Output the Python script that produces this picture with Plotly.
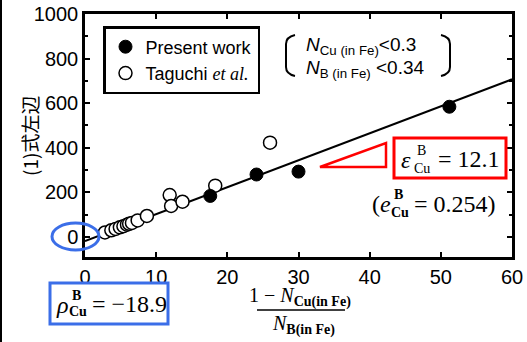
import plotly.graph_objects as go

# ---- data ----
present_x = [17.6, 24.1, 30.0, 51.2]
present_y = [184, 280, 293, 584]
taguchi_x = [2.8, 3.7, 4.3, 4.9, 5.4, 5.9, 6.2, 6.6, 7.4, 8.7, 11.9, 12.1, 13.7, 18.3, 26.0]
taguchi_y = [20, 30, 36, 43, 48, 55, 59, 63, 74, 94, 188, 139, 158, 230, 423]
fit_intercept = -18.9
fit_slope = 12.1
fit_x = [0, 60]
fit_y = [fit_intercept + fit_slope * v for v in fit_x]
x_ticks = [0, 10, 20, 30, 40, 50, 60]
y_ticks = [0, 200, 400, 600, 800, 1000]

W, H = 527, 342
L, R, T, B = 85, 15, 14, 85
PW, PH = W - L - R, H - T - B

def px(x):
    return (x - L) / PW

def py(y):
    return (H - B - y) / PH

SANS = "Liberation Sans, Arial"
SERIF = "Liberation Serif, Times New Roman"
BLUE = "rgb(59,110,232)"
RED = "rgb(255,0,0)"

fig = go.Figure()
fig.add_trace(go.Scatter(x=fit_x, y=fit_y, mode="lines", line=dict(color="black", width=2),
                         showlegend=False, hoverinfo="skip"))
fig.add_trace(go.Scatter(x=taguchi_x, y=taguchi_y, mode="markers", name='Taguchi <span style="font-family:Liberation Serif"><i>et al.</i></span>',
                         marker=dict(size=13, color="white", line=dict(color="black", width=1.5)),
                         legendrank=2))
fig.add_trace(go.Scatter(x=present_x, y=present_y, mode="markers", name="Present work",
                         marker=dict(size=13, color="black", line=dict(color="black", width=1)),
                         legendrank=1))

shapes = []
anns = []

def text(x, y, s, size, family=SERIF, color="black", xanchor="left", yanchor="middle", **kw):
    anns.append(dict(x=px(x), y=py(y), xref="paper", yref="paper", text=s, showarrow=False,
                     font=dict(size=size, family=family, color=color),
                     xanchor=xanchor, yanchor=yanchor, **kw))

# left border line of picture
shapes.append(dict(type="line", xref="paper", yref="paper", x0=px(1), x1=px(1), y0=py(0), y1=py(H),
                   line=dict(color="black", width=2)))

# condition bracket
def paren(xe, xc, y0, y1):
    p = (f"M {px(xe)} {py(y0)} Q {px(xc)} {py(y0 + 2)} {px(xc)} {py(y0 + 9)} "
         f"L {px(xc)} {py(y1 - 9)} Q {px(xc)} {py(y1 - 2)} {px(xe)} {py(y1)}")
    shapes.append(dict(type="path", xref="paper", yref="paper", path=p, line=dict(color="black", width=2)))

paren(295, 286, 35, 76)
paren(441, 450, 35, 76)
text(304, 46, "<i>N</i><sub>Cu (in Fe)</sub>&lt;0.3", 19, family=SANS)
text(304, 69, "<i>N</i><sub>B (in Fe)</sub> &lt;0.34", 19, family=SANS)

# red triangle & epsilon box
shapes.append(dict(type="path", xref="paper", yref="paper",
                   path=f"M {px(320)} {py(167)} L {px(386)} {py(143)} L {px(386)} {py(167)} Z",
                   line=dict(color=RED, width=2.5)))
shapes.append(dict(type="rect", xref="paper", yref="paper", x0=px(394), x1=px(506), y0=py(138), y1=py(178),
                   line=dict(color=RED, width=3), fillcolor="white"))
text(399, 160, "<i>ε</i>", 24)
text(415, 150, "B", 14)
text(412, 168, "Cu", 14)
text(436, 159, "= 12.1", 24)

# e value
text(370, 204, "(<i>e</i>", 24)
text(392, 194, "<b>B</b>", 14)
text(389, 212, "<b>Cu</b>", 14)
text(412, 204, "= 0.254)", 24)

# blue ellipse & rho box
shapes.append(dict(type="circle", xref="paper", yref="paper", x0=px(52), x1=px(99), y0=py(223), y1=py(250),
                   line=dict(color=BLUE, width=3)))
shapes.append(dict(type="rect", xref="paper", yref="paper", x0=px(50), x1=px(168), y0=py(283), y1=py(324),
                   line=dict(color=BLUE, width=3), fillcolor="white"))
text(54, 305, "<i>ρ</i>", 24)
text(70, 295, "<b>B</b>", 14)
text(67, 311, "<b>Cu</b>", 14)
text(90, 304, "= −18.9", 24)

# x axis title (fraction)
text(300, 297, "1 − <i>N</i><sub><b>Cu(in Fe)</b></sub>", 20, xanchor="center")
shapes.append(dict(type="line", xref="paper", yref="paper", x0=px(257), x1=px(345), y0=py(310), y1=py(310),
                   line=dict(color="black", width=1.5)))
text(303, 325, "<i>N</i><sub><b>B(in Fe)</b></sub>", 20, xanchor="center")

# y axis title
text(29, 136, "(1)式左辺", 19, family="Noto Sans CJK JP", xanchor="center", textangle=-90)

axis_common = dict(showline=True, linecolor="black", linewidth=2.5, mirror="ticks", ticks="inside",
                   ticklen=5, tickwidth=2, tickcolor="black", showgrid=False, zeroline=False,
                   automargin=False,
                   tickfont=dict(family=SANS, size=20, color="black"))

fig.update_xaxes(range=[0, 60], tickvals=x_ticks, **axis_common)
fig.update_yaxes(range=[-90, 1000], tickvals=y_ticks,
                 minor=dict(dtick=100, tick0=0, ticks="inside", ticklen=3, tickwidth=1.5, tickcolor="black"),
                 **axis_common)

fig.update_layout(
    width=W, height=H, margin=dict(l=L, r=R, t=T, b=B, autoexpand=False),
    paper_bgcolor="white", plot_bgcolor="white",
    shapes=shapes, annotations=anns,
    legend=dict(x=px(103), y=py(26), xanchor="left", yanchor="top", bordercolor="black", borderwidth=2.5,
                bgcolor="white", font=dict(family=SANS, size=18, color="black"),
                tracegroupgap=0, itemwidth=30),
)

fig.write_html("out.html", config={"displayModeBar": False},
               post_script="document.body.style.margin='0px';")
